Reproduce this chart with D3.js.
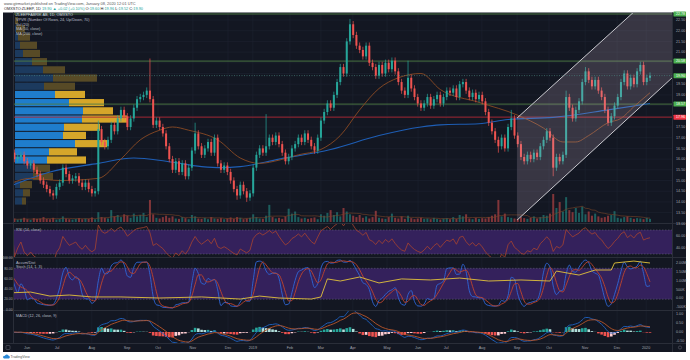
<!DOCTYPE html>
<html>
<head>
<meta charset="utf-8">
<script src="https://d3js.org/d3.v7.min.js"></script>
<style>
  body { margin: 0; background: #fff; }
  svg { display: block; font-family: "Liberation Sans", Arial, sans-serif; }
</style>
</head>
<body>
<div id="main-container"></div>
<script>
var width = 690,
    height = 360

// ---- values (one bar ~ two trading days) ----
var firstOpen = 16.1
var closes = [
  16.2, 16.3, 16.0, 16.1, 16.2, 15.9, 15.7, 15.8, 15.5, 15.3,
  15.0, 14.8, 14.6, 14.4, 14.3, 14.7, 14.9, 15.6, 15.3, 15.0,
  15.1, 15.2, 14.9, 14.7, 14.9, 14.6, 14.4, 14.5, 17.4, 16.8,
  16.6, 16.9, 17.6, 17.3, 17.9, 18.3, 18.0, 17.5, 17.9, 18.4,
  18.8, 18.9, 19.0, 19.2, 18.8, 17.6, 17.8, 17.5, 17.2, 16.6,
  16.0, 15.5, 15.9, 15.4, 15.8, 15.2, 15.6, 16.4, 17.2, 16.6,
  16.2, 16.5, 16.8, 16.3, 17.0, 15.8, 15.5, 15.7, 15.4, 15.0,
  14.6, 14.3, 14.8, 14.5, 14.2, 14.4, 15.6, 16.2, 16.5, 16.3,
  16.6, 17.0, 16.8, 17.1, 16.7, 16.3, 15.9, 16.1, 16.5, 16.7,
  17.0, 16.8, 17.2, 16.9, 16.6, 16.4, 17.0, 17.8, 18.2, 18.6,
  18.4, 19.0, 19.6, 20.3, 20.0, 21.5, 22.3, 21.8, 21.3, 21.1,
  20.8, 21.3, 20.5, 20.3, 19.9, 20.4, 20.0, 20.5, 20.2, 20.6,
  20.1, 19.6, 19.2, 19.0, 19.8, 19.3, 18.9, 18.6, 18.4, 18.6,
  18.9, 18.5, 18.8, 19.0, 18.6, 18.9, 19.2, 19.1, 19.3, 18.9,
  19.5, 19.6, 19.2, 18.9, 19.1, 18.8, 19.0, 18.7, 18.2, 17.7,
  17.3, 16.9, 16.6, 17.0, 16.5, 17.5, 17.9, 17.1, 16.7, 16.1,
  15.9, 16.2, 16.0, 16.3, 16.1, 16.6, 16.9, 17.3, 17.0, 15.6,
  16.1, 15.9, 16.2, 18.9, 18.4, 17.9, 18.3, 18.7, 19.6, 20.1,
  19.7, 19.4, 19.7, 19.2, 18.9, 18.3, 17.7, 18.0, 18.5, 18.9,
  19.6, 20.0, 19.4, 19.8, 19.5, 20.1, 20.4, 19.6, 19.8, 19.9
]
var volumes = [
  8, 6, 10, 7, 9, 12, 8, 6, 11, 9,
  10, 14, 9, 8, 12, 7, 9, 16, 10, 8,
  7, 9, 11, 8, 10, 9, 13, 8, 28, 14,
  12, 10, 34, 16, 20, 14, 22, 18, 12, 24,
  16, 20, 26, 14, 63, 22, 12, 10, 14, 18,
  12, 16, 10, 9, 14, 11, 8, 20, 16, 10,
  9, 12, 8, 14, 10, 9, 11, 8, 10, 13,
  9, 14, 12, 8, 10, 12, 22, 14, 10, 9,
  18, 49, 14, 10, 12, 9, 16, 38, 24, 30,
  14, 10, 12, 9, 11, 13, 8, 22, 18, 26,
  34, 20, 28, 16, 40, 30, 22, 18, 14, 20,
  12, 16, 10, 14, 32, 12, 10, 9, 14, 24,
  12, 10, 16, 9, 18, 11, 8, 10, 12, 9,
  10, 8, 12, 9, 7, 10, 11, 8, 14, 9,
  20, 16, 22, 10, 8, 12, 9, 11, 10, 14,
  18, 22, 63, 16, 24, 14, 12, 10, 9, 14,
  11, 9, 12, 16, 10, 14, 20, 18, 24, 80,
  40, 57, 30, 71, 34, 28, 40, 26, 44, 22,
  30, 18, 24, 16, 12, 14, 18, 20, 31, 12,
  10, 14, 16, 12, 9, 11, 10, 8, 12, 9
]
var highBars = [28, 44, 58, 80, 106, 124, 156, 173, 179, 196]
var highVals = [17.8, 20.7, 17.7, 18.1, 22.55, 20.6, 18.3, 19.2, 20.3, 20.55]
var lowBars = [14, 71, 74, 152, 169]
var lowVals = [14.1, 14.1, 14.0, 16.3, 15.2]

var ma50Bars = [0, 7, 16, 28, 35, 41, 47, 51, 56, 65, 72, 78, 84, 90, 97, 103, 109, 115, 121, 128, 134, 146, 158, 166, 172, 176, 180, 186, 190, 194, 199]
var ma50Vals = [14.8, 15.1, 15.0, 15.1, 16.0, 16.9, 17.35, 17.5, 17.35, 16.9, 16.05, 15.8, 15.95, 16.2, 16.45, 17.1, 18.3, 19.3, 19.8, 20.0, 19.25, 18.65, 18.05, 17.45, 16.8, 16.8, 17.1, 17.7, 17.9, 18.45, 19.1]
var ma200Bars = [0, 13, 28, 39, 49, 60, 66, 72, 84, 100, 115, 128, 134, 146, 155, 169, 186, 199]
var ma200Vals = [14.7, 15.4, 15.8, 16.05, 15.9, 15.65, 15.6, 15.65, 16.0, 16.45, 17.1, 17.5, 17.6, 17.65, 17.85, 17.95, 18.3, 18.6]

var adBars = [0, 7, 13, 19, 26, 35, 47, 60, 72, 78, 84, 94, 97, 99, 103, 109, 115, 122, 131, 140, 149, 159, 168, 170, 177, 182, 187, 188, 194, 199]
var adVals = [0.29, 0.34, 0.11, 0.17, 0.06, 0.06, 0.0, 0.06, -0.06, 0.11, 0.0, -0.06, 0.06, 1.09, 0.97, 1.2, 0.86, 1.09, 1.03, 1.14, 0.97, 1.03, 0.97, 1.54, 1.31, 1.6, 1.6, 2.0, 2.11, 2.0]

// volume profile rows, bottom to top
var profileBase = 13.85, profileStep = 0.383
var profileUp =   [7, 8, 5, 18, 18, 32, 34, 60, 48, 49, 67, 68, 54, 40, 29, 38, 28, 17, 8, 5, 3, 1, 0, 0]
var profileDown = [4, 7, 12, 20, 17, 39, 28, 32, 23, 36, 45, 30, 35, 30, 31, 44, 22, 15, 17, 17, 12, 9, 3, 1]
var valueAreaRows = [5, 13]

var levelPrices = [22.78, 20.58, 18.57, 17.96]
var channelBars = [157.8, 206.8]
var channelUpper = [17.92, 24.63]
var channelLower = [13.15, 19.93]

var monthLabels = ["Jun", "Jul", "Aug", "Sep", "Oct", "Nov", "Dec", "2019", "Feb", "Mar", "Apr", "May", "Jun", "Jul", "Aug", "Sep", "Oct", "Nov", "Dec", "2020"]
var monthBars = [5.9, 15.2, 26.0, 36.9, 46.5, 57.3, 68.2, 75.9, 87.4, 97.0, 106.9, 117.5, 127.1, 135.8, 146.9, 157.8, 167.7, 178.9, 188.8, 197.8]

var priceTicks = d3.range(13, 22.51, 0.5)
var rsiTicks = [60, 40]
var stochTicks = [100, 80, 60, 40, 20, 0]
var adTicks = [2, 1.5, 1, 0.5, 0, -0.5]
var adTickText = ["2.00M", "1.50M", "1.00M", "500K", "0.00", "-500K"]
var macdTicks = [1, 0.5, 0, -0.5]

// ---- layout ----
var left = 14, right = 672
var mainTop = 13, mainBot = 223
var rsiTop = 224, rsiBot = 257
var stTop = 258, stBot = 310
var mdTop = 311, mdBot = 343

var x = d3.scaleLinear().domain([0, 199]).range([8, 650])
var yPrice = d3.scaleLinear().domain([13, 22.78]).range([223.3, 14])
var yVol = d3.scaleLinear().domain([0, 100]).range([222, 187])
var yRsi = d3.scaleLinear().domain([25, 80]).range([257, 224])
var ySt = d3.scaleLinear().domain([0, 100]).range([309.5, 258])
var yAd = d3.scaleLinear().domain([0, 2]).range([298, 263])
var yMacd = d3.scaleLinear().domain([-0.5, 1]).range([341, 314])

// ---- bars ----
var bars = closes.map(function(c, i) {
  var o = i ? closes[i - 1] : firstOpen
  var hi = Math.max(o, c) + 0.15, lo = Math.min(o, c) - 0.15
  var hIdx = highBars.indexOf(i), lIdx = lowBars.indexOf(i)
  if (hIdx > -1) hi = highVals[hIdx]
  if (lIdx > -1) lo = lowVals[lIdx]
  return { i: i, o: o, c: c, h: hi, l: lo, v: volumes[i], up: c >= o }
})

// ---- indicators from the bars ----
function ema(arr, n) {
  var k = 2 / (n + 1), prev
  return arr.map(function(v, i) { prev = i ? v * k + prev * (1 - k) : v; return prev })
}
function sma(arr, n) {
  return arr.map(function(v, i) { return d3.mean(arr.slice(Math.max(0, i - n + 1), i + 1)) })
}

var rsi = [50], ag = 0, al = 0, rsiN = 8
for (var i = 1; i < closes.length; i++) {
  var ch = closes[i] - closes[i - 1]
  var g = Math.max(ch, 0), l = Math.max(-ch, 0)
  var n = Math.min(i, rsiN)
  ag = (ag * (n - 1) + g) / n
  al = (al * (n - 1) + l) / n
  rsi.push(al === 0 ? 100 : 100 - 100 / (1 + ag / al))
}

var rawK = bars.map(function(b, i) {
  var w = bars.slice(Math.max(0, i - 7), i + 1)
  var hh = d3.max(w, function(d) { return d.h }), ll = d3.min(w, function(d) { return d.l })
  return 100 * (b.c - ll) / (hh - ll)
})
var stochK = sma(rawK, 2)
var stochD = sma(stochK, 3)

var macd = d3.zip(ema(closes, 6), ema(closes, 13)).map(function(p) { return p[0] - p[1] })
var signal = ema(macd, 5)
var hist = macd.map(function(m, i) { return m - signal[i] })
var volMa = sma(volumes, 10)

// ---- svg ----
var svg = d3.select("#main-container").append("svg")
  .attr("width", width)
  .attr("height", height)

svg.append("rect").attr("width", width).attr("height", height).attr("fill", "#ffffff")

var hdr = svg.append("g").attr("font-size", 3.9)
hdr.append("text").attr("x", 4).attr("y", 4.6).attr("fill", "#555")
  .text("www.gtrmarket.published on TradingView.com, January 08, 2020 12:01 UTC")
var h2 = hdr.append("text").attr("x", 4).attr("y", 10.2).attr("fill", "#222")
h2.append("tspan").text("OMXSTO:ZLEEP, 1D  ")
h2.append("tspan").attr("fill", "#26a69a").text("19.90 ▲ +0.02 (+0.10%) ")
h2.append("tspan").text("O:")
h2.append("tspan").attr("fill", "#26a69a").text("19.60 ")
h2.append("tspan").text("H:")
h2.append("tspan").attr("fill", "#26a69a").text("19.96 ")
h2.append("tspan").text("L:")
h2.append("tspan").attr("fill", "#26a69a").text("19.52 ")
h2.append("tspan").text("C:")
h2.append("tspan").attr("fill", "#26a69a").text("19.90")

svg.append("rect").attr("x", 3).attr("y", 12.5).attr("width", 683).attr("height", 339.5).attr("fill", "#131722")

var defs = svg.append("defs")
function clip(id, y0, y1) {
  defs.append("clipPath").attr("id", id).append("rect")
    .attr("x", left).attr("y", y0).attr("width", right - left).attr("height", y1 - y0)
  return svg.append("g").attr("clip-path", "url(#" + id + ")")
}

// grid
var grid = svg.append("g").attr("stroke", "#1f2431").attr("stroke-width", 0.6)
grid.selectAll(".vg").data(monthBars).enter().append("line")
  .attr("x1", function(d) { return x(d) }).attr("x2", function(d) { return x(d) })
  .attr("y1", mainTop).attr("y2", mdBot)
grid.selectAll(".hg").data(priceTicks).enter().append("line")
  .attr("x1", left).attr("x2", right)
  .attr("y1", function(d) { return yPrice(d) }).attr("y2", function(d) { return yPrice(d) })

// pane separators
svg.append("g").attr("stroke", "#2a2e39").attr("stroke-width", 1)
  .selectAll("line").data([223.5, 257.5, 310.5, 343.5]).enter().append("line")
  .attr("x1", 3).attr("x2", 686).attr("y1", function(d) { return d }).attr("y2", function(d) { return d })
svg.append("line").attr("x1", right + 0.5).attr("x2", right + 0.5).attr("y1", 12.5).attr("y2", 352)
  .attr("stroke", "#2a2e39")
svg.append("line").attr("x1", left - 0.5).attr("x2", left - 0.5).attr("y1", 12.5).attr("y2", 343)
  .attr("stroke", "#2a2e39")

// ---- main pane ----
var main = clip("clipMain", mainTop, mainBot)

// volume profile
var prof = main.append("g")
profileUp.forEach(function(u, k) {
  var y0 = yPrice(profileBase + (k + 1) * profileStep), y1 = yPrice(profileBase + k * profileStep)
  var inVA = k >= valueAreaRows[0] && k <= valueAreaRows[1]
  prof.append("rect").attr("x", 15).attr("y", y0 + 0.5).attr("width", u).attr("height", y1 - y0 - 1)
    .attr("fill", inVA ? "#1f7dcc" : "#1c3a5e")
  prof.append("rect").attr("x", 15 + u).attr("y", y0 + 0.5).attr("width", profileDown[k]).attr("height", y1 - y0 - 1)
    .attr("fill", inVA ? "#d5a62a" : "#574a26")
})

// level lines
var levelColors = ["#4f7d45", "#4f7d45", "#4f7d45", "#b02732"]
main.selectAll(".lvl").data(levelPrices).enter().append("line")
  .attr("x1", left).attr("x2", right)
  .attr("y1", function(d) { return yPrice(d) }).attr("y2", function(d) { return yPrice(d) })
  .attr("stroke", function(d, i) { return levelColors[i] })
  .attr("stroke-width", 0.9)

// volume bars
main.selectAll(".vol").data(bars).enter().append("rect")
  .attr("x", function(d) { return x(d.i) - 1 })
  .attr("y", function(d) { return yVol(d.v) })
  .attr("width", 2)
  .attr("height", function(d) { return yVol(0) - yVol(d.v) })
  .attr("fill", function(d) { return d.up ? "#26a69a" : "#ef5350" })
  .attr("opacity", 0.5)
main.append("path").datum(volMa)
  .attr("d", d3.line().x(function(d, i) { return x(i) }).y(function(d) { return yVol(d) }))
  .attr("fill", "none").attr("stroke", "#7a4526").attr("stroke-width", 0.6)

// moving averages
var maLine = d3.line().x(function(d) { return x(d[0]) }).y(function(d) { return yPrice(d[1]) }).curve(d3.curveMonotoneX)
main.append("path").datum(d3.zip(ma200Bars, ma200Vals)).attr("d", maLine)
  .attr("fill", "none").attr("stroke", "#1e5eb5").attr("stroke-width", 1.1)
main.append("path").datum(d3.zip(ma50Bars, ma50Vals)).attr("d", maLine)
  .attr("fill", "none").attr("stroke", "#8a4a22").attr("stroke-width", 0.9)

// candles
var candles = main.selectAll(".candle").data(bars).enter().append("g")
candles.append("line")
  .attr("x1", function(d) { return x(d.i) }).attr("x2", function(d) { return x(d.i) })
  .attr("y1", function(d) { return yPrice(d.h) }).attr("y2", function(d) { return yPrice(d.l) })
  .attr("stroke", function(d) { return d.up ? "#26a69a" : "#ef5350" })
  .attr("stroke-width", 0.7)
candles.append("rect")
  .attr("x", function(d) { return x(d.i) - 1 })
  .attr("y", function(d) { return yPrice(Math.max(d.o, d.c)) })
  .attr("width", 2)
  .attr("height", function(d) { return Math.max(0.8, Math.abs(yPrice(d.o) - yPrice(d.c))) })
  .attr("fill", function(d) { return d.up ? "#26a69a" : "#ef5350" })

// channel
var chanPts = [[channelBars[0], channelUpper[0]], [channelBars[1], channelUpper[1]],
               [channelBars[1], channelLower[1]], [channelBars[0], channelLower[0]]]
main.append("polygon")
  .attr("points", chanPts.map(function(p) { return x(p[0]) + "," + yPrice(p[1]) }).join(" "))
  .attr("fill", "rgba(205,180,200,0.2)")
;[channelUpper, channelLower].forEach(function(edge) {
  main.append("line")
    .attr("x1", x(channelBars[0])).attr("y1", yPrice(edge[0]))
    .attr("x2", x(channelBars[1])).attr("y2", yPrice(edge[1]))
    .attr("stroke", "#c9c9cf").attr("stroke-width", 1)
})

// last price line
var last = closes[closes.length - 1]
main.append("line").attr("x1", left).attr("x2", right)
  .attr("y1", yPrice(last)).attr("y2", yPrice(last))
  .attr("stroke", "#4f8f86").attr("stroke-width", 0.6).attr("stroke-dasharray", "1,1.5")

// legend
var leg = svg.append("g").attr("font-size", 3.8).attr("fill", "#b8bcc8")
;["ZLEEPFABRIK AB, 1D, OMXSTO", "VPVR (Number Of Rows, 24, Up/Down, 70)", "Vol (20)", "MA (50, close)", "MA (200, close)"]
  .forEach(function(t, k) {
    leg.append("text").attr("x", 16).attr("y", 16.3 + k * 4.6).attr("fill", k ? "#b8bcc8" : "#d9dce3").text(t)
  })

// ---- RSI pane ----
var rp = clip("clipRsi", rsiTop, rsiBot)
rp.append("rect").attr("x", left).attr("width", right - left)
  .attr("y", yRsi(70)).attr("height", yRsi(30) - yRsi(70)).attr("fill", "#34215c")
rp.selectAll(".rl").data([70, 30]).enter().append("line")
  .attr("x1", left).attr("x2", right)
  .attr("y1", function(d) { return yRsi(d) }).attr("y2", function(d) { return yRsi(d) })
  .attr("stroke", "#6d6a80").attr("stroke-width", 0.5).attr("stroke-dasharray", "1.5,1.5")
rp.append("path").datum(rsi)
  .attr("d", d3.line().x(function(d, i) { return x(i) }).y(function(d) { return yRsi(d) }))
  .attr("fill", "none").attr("stroke", "#a8432f").attr("stroke-width", 0.8)
svg.append("text").attr("x", 16).attr("y", 230.5).attr("font-size", 3.8).attr("fill", "#b8bcc8").text("RSI (14, close)")

// ---- Stoch / Accum-Dist pane ----
var sp = clip("clipSt", stTop, stBot)
sp.append("rect").attr("x", left).attr("width", right - left)
  .attr("y", ySt(80)).attr("height", ySt(20) - ySt(80)).attr("fill", "#34215c")
sp.selectAll(".sl").data([80, 20]).enter().append("line")
  .attr("x1", left).attr("x2", right)
  .attr("y1", function(d) { return ySt(d) }).attr("y2", function(d) { return ySt(d) })
  .attr("stroke", "#6d6a80").attr("stroke-width", 0.5).attr("stroke-dasharray", "1.5,1.5")
var stLine = d3.line().x(function(d, i) { return x(i) }).y(function(d) { return ySt(d) }).curve(d3.curveMonotoneX)
sp.append("path").datum(stochK).attr("d", stLine)
  .attr("fill", "none").attr("stroke", "#2f67d8").attr("stroke-width", 0.9)
sp.append("path").datum(stochD).attr("d", stLine)
  .attr("fill", "none").attr("stroke", "#c0442c").attr("stroke-width", 0.9)
sp.append("path").datum(d3.zip(adBars, adVals))
  .attr("d", d3.line().x(function(d) { return x(d[0]) }).y(function(d) { return yAd(d[1]) }))
  .attr("fill", "none").attr("stroke", "#e3c33a").attr("stroke-width", 0.9)
svg.append("text").attr("x", 16).attr("y", 263.5).attr("font-size", 3.8).attr("fill", "#b8bcc8").text("Accum/Dist")
svg.append("text").attr("x", 16).attr("y", 268.3).attr("font-size", 3.8).attr("fill", "#b8bcc8").text("Stoch (14, 1, 3)")

// ---- MACD pane ----
var mp = clip("clipMacd", mdTop, mdBot)
mp.selectAll(".hb").data(hist).enter().append("rect")
  .attr("x", function(d, i) { return x(i) - 1.3 })
  .attr("width", 2.6)
  .attr("y", function(d) { return Math.min(yMacd(d), yMacd(0)) })
  .attr("height", function(d) { return Math.abs(yMacd(d) - yMacd(0)) })
  .attr("fill", function(d, i) {
    var prev = i ? hist[i - 1] : 0
    if (d >= 0) return d > prev ? "#26a69a" : "#b2dfdb"
    return d < prev ? "#ef5350" : "#ffcdd2"
  })
var mdLine = d3.line().x(function(d, i) { return x(i) }).y(function(d) { return yMacd(d) }).curve(d3.curveMonotoneX)
mp.append("path").datum(macd).attr("d", mdLine).attr("fill", "none").attr("stroke", "#1f63c4").attr("stroke-width", 0.9)
mp.append("path").datum(signal).attr("d", mdLine).attr("fill", "none").attr("stroke", "#b9562a").attr("stroke-width", 0.9)
svg.append("text").attr("x", 16).attr("y", 316.5).attr("font-size", 3.8).attr("fill", "#b8bcc8").text("MACD (12, 26, close, 9)")

// ---- axes ----
var last = closes[closes.length - 1]
var boxPrices = levelPrices.concat([last])
var freeTicks = priceTicks.filter(function(p) {
  return boxPrices.every(function(b) { return Math.abs(yPrice(p) - yPrice(b)) > 4.5 })
})
var ax = svg.append("g").attr("font-size", 3.7).attr("fill", "#a3a6af")
ax.selectAll(".pt").data(freeTicks).enter().append("text")
  .attr("x", 676).attr("y", function(d) { return yPrice(d) + 1.3 }).text(function(d) { return d.toFixed(2) })
ax.selectAll(".rt").data(rsiTicks).enter().append("text")
  .attr("x", 676).attr("y", function(d) { return yRsi(d) + 1.3 }).text(function(d) { return d.toFixed(2) })
ax.selectAll(".at").data(adTicks).enter().append("text")
  .attr("x", 676).attr("y", function(d) { return yAd(d) + 1.3 }).text(function(d, i) { return adTickText[i] })
ax.selectAll(".mt").data(macdTicks).enter().append("text")
  .attr("x", 676).attr("y", function(d) { return yMacd(d) + 1.3 }).text(function(d) { return d.toFixed(2) })
ax.selectAll(".st").data(stochTicks).enter().append("text")
  .attr("x", 12.5).attr("text-anchor", "end").attr("font-size", 3.3)
  .attr("y", function(d) { return ySt(d) + 1.2 }).text(function(d) { return d.toFixed(2) })
ax.selectAll(".tm").data(monthBars).enter().append("text")
  .attr("x", function(d) { return x(d) }).attr("y", 349.3).attr("text-anchor", "middle")
  .text(function(d, i) { return monthLabels[i] })

// price boxes
var boxColors = ["#4caf50", "#4caf50", "#4caf50", "#f23645", "#4caf50"]
var boxes = svg.append("g").selectAll(".bx").data(boxPrices).enter().append("g")
boxes.append("rect").attr("x", 673.5).attr("width", 12.5).attr("height", 5)
  .attr("y", function(d) { return yPrice(d) - 2.5 }).attr("rx", 0.6)
  .attr("fill", function(d, i) { return boxColors[i] })
boxes.append("text").attr("x", 676).attr("y", function(d) { return yPrice(d) + 1.3 })
  .attr("font-size", 3.6).attr("fill", "#fff").text(function(d) { return d.toFixed(2) })

// corner icons
svg.append("rect").attr("x", 6).attr("y", 345.5).attr("width", 4).attr("height", 4).attr("rx", 0.6)
  .attr("fill", "none").attr("stroke", "#6a6d78").attr("stroke-width", 0.5)
svg.append("circle").attr("cx", 680).attr("cy", 347.5).attr("r", 1.6)
  .attr("fill", "none").attr("stroke", "#6a6d78").attr("stroke-width", 0.5)

// footer logo
svg.append("path").attr("d", "M4,358.5 h5 a1.6,1.6 0 0 0 -0.6,-3 a2,2 0 0 0 -3.6,0.4 a1.3,1.3 0 0 0 -0.8,2.6 z")
  .attr("fill", "#2a8ad8")
svg.append("text").attr("x", 10.5).attr("y", 358.2).attr("font-size", 3.5).attr("fill", "#555").text("TradingView")
</script>
</body>
</html>
